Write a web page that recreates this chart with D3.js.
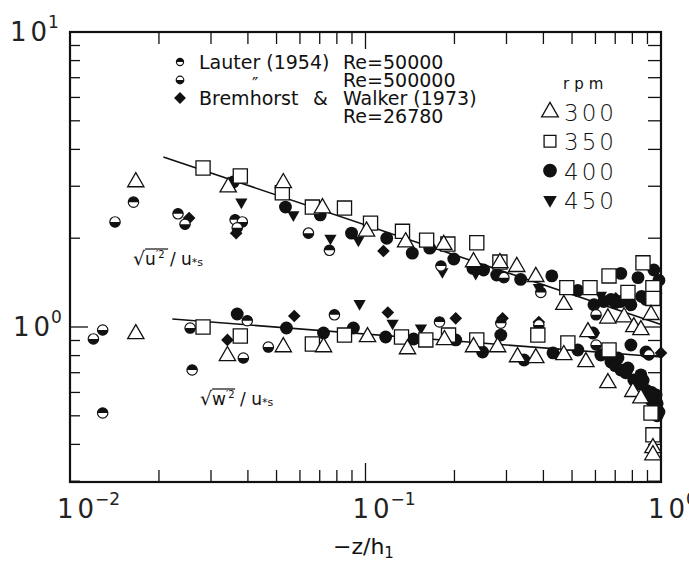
<!DOCTYPE html>
<html>
<head>
<meta charset="utf-8">
<script src="https://cdn.jsdelivr.net/npm/d3@7"></script>
<style>
body { margin: 0; background: #fff; }
text { font-family: "DejaVu Sans", sans-serif; fill: #111; }
</style>
</head>
<body>
<div id="viz"></div>
<script>

// ---- data (x = -z/h1, y = rms velocity / u*s) ----

// fitted lines
var fitU = [[0.0207, 3.77], [1.0, 1.02]];
var fitW = [[0.0222, 1.064], [1.0, 0.791]];

// 300 rpm (open triangle)
var rpm300 = [
  [0.0167, 3.10], [0.0343, 2.98], [0.0527, 3.08], [0.0715, 2.53], [0.1008, 2.11],
  [0.1367, 1.94], [0.184, 1.90], [0.232, 1.66], [0.285, 1.65], [0.325, 1.60],
  [0.377, 1.48], [0.469, 1.19], [0.661, 1.07], [0.750, 1.08], [0.809, 1.00],
  [0.855, 0.977], [0.925, 1.10],
  [0.0167, 0.947], [0.0341, 0.798], [0.0527, 0.855], [0.0721, 0.855], [0.1016, 0.925],
  [0.1387, 0.842], [0.185, 0.904], [0.232, 0.855], [0.280, 0.855], [0.327, 0.791],
  [0.377, 0.785], [0.469, 0.804], [0.557, 0.761], [0.566, 0.962], [0.661, 0.646],
  [0.803, 0.603], [0.855, 0.574], [0.939, 0.389], [0.939, 0.368]
];

// 350 rpm (open square)
var rpm350 = [
  [0.0282, 3.46], [0.0377, 3.25], [0.0523, 2.85], [0.0661, 2.55], [0.0849, 2.53],
  [0.104, 2.25], [0.1334, 2.11], [0.161, 1.97], [0.190, 1.91], [0.238, 1.93],
  [0.285, 1.66], [0.480, 1.36], [0.575, 1.36], [0.667, 1.49], [0.773, 1.31],
  [0.869, 1.65], [0.939, 1.36], [0.939, 1.25],
  [0.0282, 1.00], [0.0377, 0.932], [0.0661, 0.876], [0.0849, 0.939], [0.1324, 0.925],
  [0.160, 0.904], [0.191, 0.939], [0.238, 0.904], [0.383, 0.939], [0.484, 0.883],
  [0.667, 0.836], [0.925, 0.511], [0.939, 0.431]
];

// 400 rpm (filled circle)
var rpm400 = [
  [0.0357, 3.10], [0.0536, 2.55], [0.0703, 2.40], [0.0897, 2.08], [0.118, 2.00],
  [0.144, 1.78], [0.165, 1.85], [0.199, 1.70], [0.231, 1.58], [0.251, 1.56],
  [0.278, 1.50], [0.335, 1.45], [0.427, 1.49], [0.523, 1.33], [0.593, 1.19],
  [0.677, 1.24], [0.731, 1.22], [0.731, 1.52], [0.836, 1.47], [0.946, 1.56],
  [0.984, 1.44], [0.791, 1.19], [0.890, 1.24], [0.640, 1.22], [0.700, 1.21],
  [0.860, 1.27], [0.960, 1.30],
  [0.0368, 1.107], [0.0540, 0.992], [0.0721, 0.954], [0.091, 0.992], [0.117, 0.925],
  [0.1455, 0.911], [0.202, 0.904], [0.249, 0.823], [0.287, 0.939], [0.344, 0.773],
  [0.431, 0.817], [0.523, 0.836], [0.588, 0.954], [0.626, 0.804], [0.677, 0.761],
  [0.715, 0.785], [0.731, 0.715], [0.773, 0.726], [0.809, 0.661], [0.855, 0.688],
  [0.890, 0.611], [0.925, 0.566], [0.946, 0.536], [0.962, 0.588], [0.984, 0.515],
  [0.791, 0.869], [0.890, 0.823], [0.700, 0.740], [0.760, 0.700], [0.840, 0.640],
  [0.870, 0.660], [0.930, 0.600], [0.970, 0.550], [0.970, 0.500]
];

// 450 rpm (filled triangle down)
var rpm450 = [
  [0.0380, 2.65], [0.0570, 2.40], [0.0761, 2.00], [0.0946, 1.97], [0.182, 1.54],
  [0.236, 1.52], [0.386, 1.36], [0.626, 1.28], [0.780, 1.19],
  [0.0955, 1.20], [0.1235, 1.03], [0.154, 0.992]
];

// Lauter (1954), Re = 50000
var lauter50k = [
  [0.0164, 2.65], [0.0232, 2.42], [0.0362, 2.31], [0.0755, 1.82], [0.180, 1.61], [0.392, 1.31],
  [0.0129, 0.511], [0.0259, 0.715], [0.0398, 1.05], [0.0785, 1.10], [0.178, 1.04], [0.287, 1.03]
];

// Lauter (1954), Re = 500000
var lauter500k = [
  [0.0142, 2.27], [0.0245, 2.23], [0.0383, 2.27], [0.0368, 2.17], [0.0641, 2.08],
  [0.294, 1.47], [0.603, 1.10],
  [0.0120, 0.911], [0.0129, 0.977], [0.0255, 0.992], [0.0386, 0.785], [0.0469, 0.855],
  [0.386, 1.016], [0.603, 0.869], [0.910, 0.804]
];

// Bremhorst & Walker (1973), Re = 26780
var bremhorst = [
  [0.0253, 2.34], [0.0365, 2.08], [0.115, 1.81], [0.703, 1.25],
  [0.0341, 0.904], [0.0574, 1.09], [0.119, 1.12], [0.202, 1.07], [0.291, 1.07],
  [0.386, 1.04], [0.593, 0.954], [1.0, 0.817]
];

var rpmLabels = ["300", "350", "400", "450"];
var xTickExps = ["\u22122", "\u22121", "0"];

// ---- layout ----
var W = 689, H = 561;
var mLeft = 70, mRight = 661, mTop = 32, mBottom = 482;

var svg = d3.select('#viz').append('svg')
  .attr('width', W)
  .attr('height', H);

var x = d3.scaleLog().domain([0.01, 1]).range([mLeft, mRight]);
var y = d3.scaleLog().domain([Math.pow(10, -155 / 295), 10]).range([mBottom, mTop]);

// ticks (inward, on all four sides)
var minors = [];
[0.01, 0.1].forEach(function(d) {
  for (var k = 2; k <= 9; k++) minors.push(d * k);
});
var yMinors = [0.3, 0.4, 0.5, 0.6, 0.7, 0.8, 0.9, 2, 3, 4, 5, 6, 7, 8, 9];

var axes = svg.append('g').attr('class', 'axes');

function tickLines(vals, len, side) {
  vals.forEach(function(v) {
    var l = axes.append('line').attr('stroke', '#111').attr('stroke-width', 1.3);
    if (side == 'bottom') l.attr('x1', x(v)).attr('x2', x(v)).attr('y1', mBottom).attr('y2', mBottom - len);
    if (side == 'top') l.attr('x1', x(v)).attr('x2', x(v)).attr('y1', mTop).attr('y2', mTop + len);
    if (side == 'left') l.attr('y1', y(v)).attr('y2', y(v)).attr('x1', mLeft).attr('x2', mLeft + len);
    if (side == 'right') l.attr('y1', y(v)).attr('y2', y(v)).attr('x1', mRight).attr('x2', mRight - len);
  });
}
tickLines(minors, 12, 'bottom');
tickLines([0.1], 19, 'bottom');
tickLines(minors, 12, 'top');
tickLines([0.1], 17, 'top');
tickLines(yMinors, 10, 'left');
tickLines([1], 18, 'left');
tickLines(yMinors, 13, 'right');
tickLines([1], 18, 'right');

axes.append('rect')
  .attr('x', mLeft).attr('y', mTop)
  .attr('width', mRight - mLeft).attr('height', mBottom - mTop)
  .attr('fill', 'none').attr('stroke', '#111').attr('stroke-width', 2.2);

// tick labels
function powerLabel(px, py, exp) {
  var t = svg.append('text')
    .attr('x', px).attr('y', py)
    .style('font-size', '26px')
    .style('fill', '#222');
  t.append('tspan').text('1');
  t.append('tspan').attr('dx', 4).text('0');
  t.append('tspan').attr('dy', -13).attr('dx', 1).style('font-size', '17px').text(exp);
}
powerLabel(10, 41, '1');
powerLabel(13, 336, '0');
xTickExps.forEach(function(e, i) {
  var v = Math.pow(10, i - 2);
  powerLabel(x(v) - 13, 518, e);
});

// axis title
var xt = svg.append('text')
  .attr('x', 333).attr('y', 554)
  .style('font-size', '22px');
xt.append('tspan').text('\u2212z/h');
xt.append('tspan').attr('dy', 4).style('font-size', '15px').text('1');

// ---- fit lines ----
var line = d3.line()
  .x(function(d) { return x(d[0]); })
  .y(function(d) { return y(d[1]); });

var plot = svg.append('g').attr('class', 'plot');

[fitU, fitW].forEach(function(f) {
  plot.append('path').datum(f)
    .attr('d', line)
    .attr('fill', 'none').attr('stroke', '#111').attr('stroke-width', 1.6);
});

// ---- markers ----
var halfArc = d3.arc().innerRadius(0);

function marker(g, kind, size) {
  if (kind == 'tri') {
    g.append('path').attr('d', d3.symbol(d3.symbolTriangle, size)())
      .attr('fill', '#fff').attr('stroke', '#111').attr('stroke-width', 1.3);
  } else if (kind == 'sq') {
    g.append('path').attr('d', d3.symbol(d3.symbolSquare, size)())
      .attr('fill', '#fff').attr('stroke', '#111').attr('stroke-width', 1.3);
  } else if (kind == 'dot') {
    g.append('path').attr('d', d3.symbol(d3.symbolCircle, size)())
      .attr('fill', '#111');
  } else if (kind == 'tdown') {
    g.append('path').attr('d', d3.symbol(d3.symbolTriangle, size)())
      .attr('transform', 'rotate(180)')
      .attr('fill', '#111');
  } else if (kind == 'diam') {
    g.append('path').attr('d', d3.symbol(d3.symbolSquare, size)())
      .attr('transform', 'rotate(45)')
      .attr('fill', '#111');
  } else if (kind == 'halfTop' || kind == 'halfBot') {
    var r = Math.sqrt(size / Math.PI);
    g.append('circle').attr('r', r)
      .attr('fill', '#fff').attr('stroke', '#111').attr('stroke-width', 1.2);
    var a0 = kind == 'halfTop' ? -Math.PI / 2 : Math.PI / 2;
    g.append('path')
      .attr('d', halfArc.outerRadius(r)({ startAngle: a0, endAngle: a0 + Math.PI }))
      .attr('fill', '#111');
  }
}

function plotSeries(data, kind, size) {
  plot.append('g').selectAll('g')
    .data(data).enter()
    .append('g')
    .attr('transform', function(d) { return 'translate(' + x(d[0]) + ',' + y(d[1]) + ')'; })
    .each(function() { marker(d3.select(this), kind, size); });
}

plotSeries(rpm400, 'dot', 130);
plotSeries(rpm450, 'tdown', 65);
plotSeries(bremhorst, 'diam', 80);
plotSeries(lauter50k, 'halfTop', 85);
plotSeries(lauter500k, 'halfBot', 85);
plotSeries(rpm350, 'sq', 200);
plotSeries(rpm300, 'tri', 115);

// ---- legends ----
var leg = svg.append('g').attr('class', 'legend');
var legRows = [
  { kind: 'halfTop', size: 40, y: 62, a: 'Lauter (1954)', b: 'Re=50000' },
  { kind: 'halfBot', size: 45, y: 80, a: '', b: 'Re=500000' },
  { kind: 'diam', size: 70, y: 98, a: 'Bremhorst', b: 'Walker (1973)' }
];
legRows.forEach(function(r) {
  var g = leg.append('g').attr('transform', 'translate(180,' + r.y + ')');
  marker(g, r.kind, r.size);
  leg.append('text').attr('x', 199).attr('y', r.y + 7).style('font-size', '19px').text(r.a);
  leg.append('text').attr('x', 343).attr('y', r.y + 7).style('font-size', '19px').text(r.b);
});
leg.append('text').attr('x', 313).attr('y', 105).style('font-size', '19px').text('&');
leg.append('text').attr('x', 343).attr('y', 123).style('font-size', '19px').text('Re=26780');
leg.append('text').attr('x', 252).attr('y', 90).style('font-size', '17px').text('\u2033');

leg.append('text').attr('x', 563).attr('y', 89)
  .style('font-size', '15px').style('letter-spacing', '5px').text('rpm');

var rpmKinds = [['tri', 120], ['sq', 140], ['dot', 150], ['tdown', 80]];
rpmLabels.forEach(function(lab, i) {
  var yy = 112 + i * 29.3;
  var g = leg.append('g').attr('transform', 'translate(550,' + yy + ')');
  marker(g, rpmKinds[i][0], rpmKinds[i][1]);
  leg.append('text').attr('x', 564).attr('y', yy + 9)
    .style('font-size', '23px').style('letter-spacing', '3px').style('font-weight', '300')
    .text(lab);
});

// ---- curve annotations ----
function rmsLabel(px, py, comp) {
  var t = svg.append('text').attr('x', px).attr('y', py).style('font-size', '17px');
  t.append('tspan').style('font-size', '19px').text('\u221a');
  t.append('tspan').text(comp);
  t.append('tspan').attr('dy', -7).style('font-size', '10px').text('\u2032' + '2');
  t.append('tspan').attr('dy', 7).text(' / u');
  t.append('tspan').attr('dy', 1).style('font-size', '11px').text('*s');
  // overline above the radicand
  var s = t.node().getStartPositionOfChar(1);
  svg.append('line')
    .attr('x1', s.x).attr('x2', s.x + 23)
    .attr('y1', py - 16).attr('y2', py - 16)
    .attr('stroke', '#111').attr('stroke-width', 1.2);
}
rmsLabel(133, 265, 'u');
rmsLabel(200, 405, 'w');

</script>
</body>
</html>
